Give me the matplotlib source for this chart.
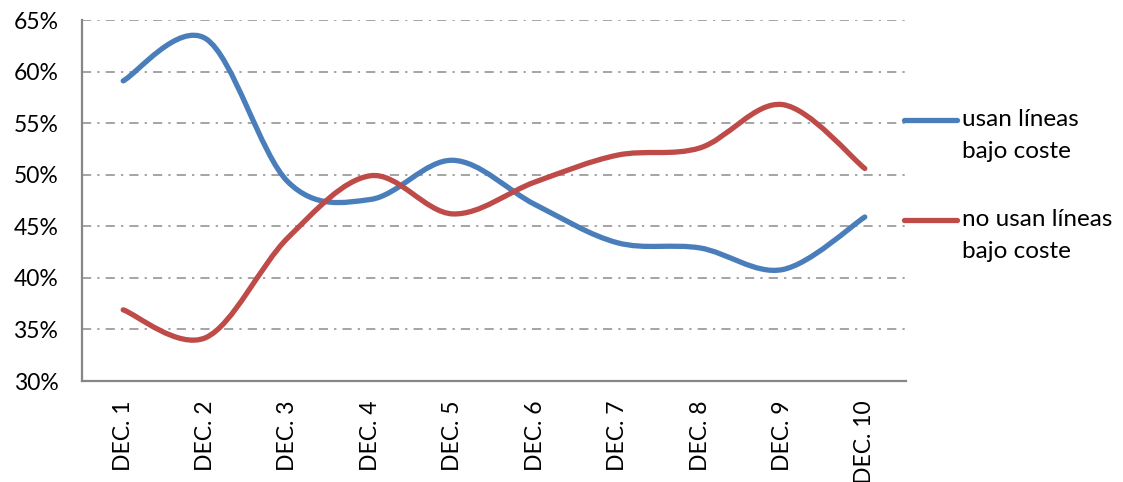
import matplotlib
matplotlib.use("Agg")
import matplotlib.pyplot as plt
import numpy as np
from matplotlib.path import Path
from matplotlib.patches import PathPatch
from matplotlib.lines import Line2D
from matplotlib.ticker import PercentFormatter

plt.rcParams['font.family'] = ['Lato', 'DejaVu Sans']

categories = ["DEC. 1", "DEC. 2", "DEC. 3", "DEC. 4", "DEC. 5",
              "DEC. 6", "DEC. 7", "DEC. 8", "DEC. 9", "DEC. 10"]
usan = [59.1, 63.2, 49.3, 47.6, 51.4, 47.1, 43.4, 42.9, 40.8, 45.9]
no_usan = [36.9, 34.2, 43.9, 49.9, 46.2, 49.3, 51.9, 52.6, 56.8, 50.6]
series_labels = ["usan líneas\nbajo coste", "no usan líneas\nbajo coste"]
colors = ["#4A7EBB", "#BE4B48"]


def smooth_path(x, y):
    # Excel-style smoothed line: cubic Bezier through each point
    pts = np.column_stack([x, y]).astype(float)
    n = len(pts)
    verts = [pts[0]]
    codes = [Path.MOVETO]
    for i in range(n - 1):
        p_prev = pts[i - 1] if i > 0 else pts[i]
        p_next2 = pts[i + 2] if i + 2 < n else pts[i + 1]
        c1 = pts[i] + (pts[i + 1] - p_prev) / 6.0
        c2 = pts[i + 1] - (p_next2 - pts[i]) / 6.0
        verts += [c1, c2, pts[i + 1]]
        codes += [Path.CURVE4] * 3
    return Path(verts, codes)


W, H = 1123, 482
fig = plt.figure(figsize=(W / 100, H / 100), dpi=100)
ax = fig.add_axes([82 / W, 101 / H, 824 / W, 361 / H])

x = np.arange(len(categories))
for vals, c in zip([usan, no_usan], colors):
    patch = PathPatch(smooth_path(x, vals), facecolor='none', edgecolor=c,
                      linewidth=3.8, capstyle='round', joinstyle='round', zorder=3)
    ax.add_patch(patch)

ax.set_xlim(-0.5, len(categories) - 0.5)
ax.set_ylim(30, 65)
ax.set_yticks(np.arange(30, 66, 5))
ax.yaxis.set_major_formatter(PercentFormatter(decimals=0))
ax.set_xticks(x)
ax.set_xticklabels(categories, rotation=90, va='top', ha='center')
ax.tick_params(axis='both', length=0, labelsize=16.5, colors='black')
ax.tick_params(axis='y', pad=17)
ax.tick_params(axis='x', pad=14)

ax.grid(axis='y', color='#8C8C8C', linestyle=(0, (6, 4, 1.5, 4)), linewidth=1.1)
ax.set_axisbelow(True)
for s in ['top', 'right']:
    ax.spines[s].set_visible(False)
for s in ['left', 'bottom']:
    ax.spines[s].set_color('#868686')
    ax.spines[s].set_linewidth(1.6)

# legend drawn by hand: line aligned with the first text line
legend_y = [120, 220]
for label, c, yp in zip(series_labels, colors, legend_y):
    fy = 1 - yp / H
    fig.add_artist(Line2D([904 / W, 957 / W], [fy, fy], color=c, linewidth=3.8,
                          solid_capstyle='round', transform=fig.transFigure))
    fig.text(962 / W, 1 - (yp - 11) / H, label, fontsize=17.5, va='top', ha='left',
             linespacing=1.62)

fig.savefig("out.png", dpi=100)
